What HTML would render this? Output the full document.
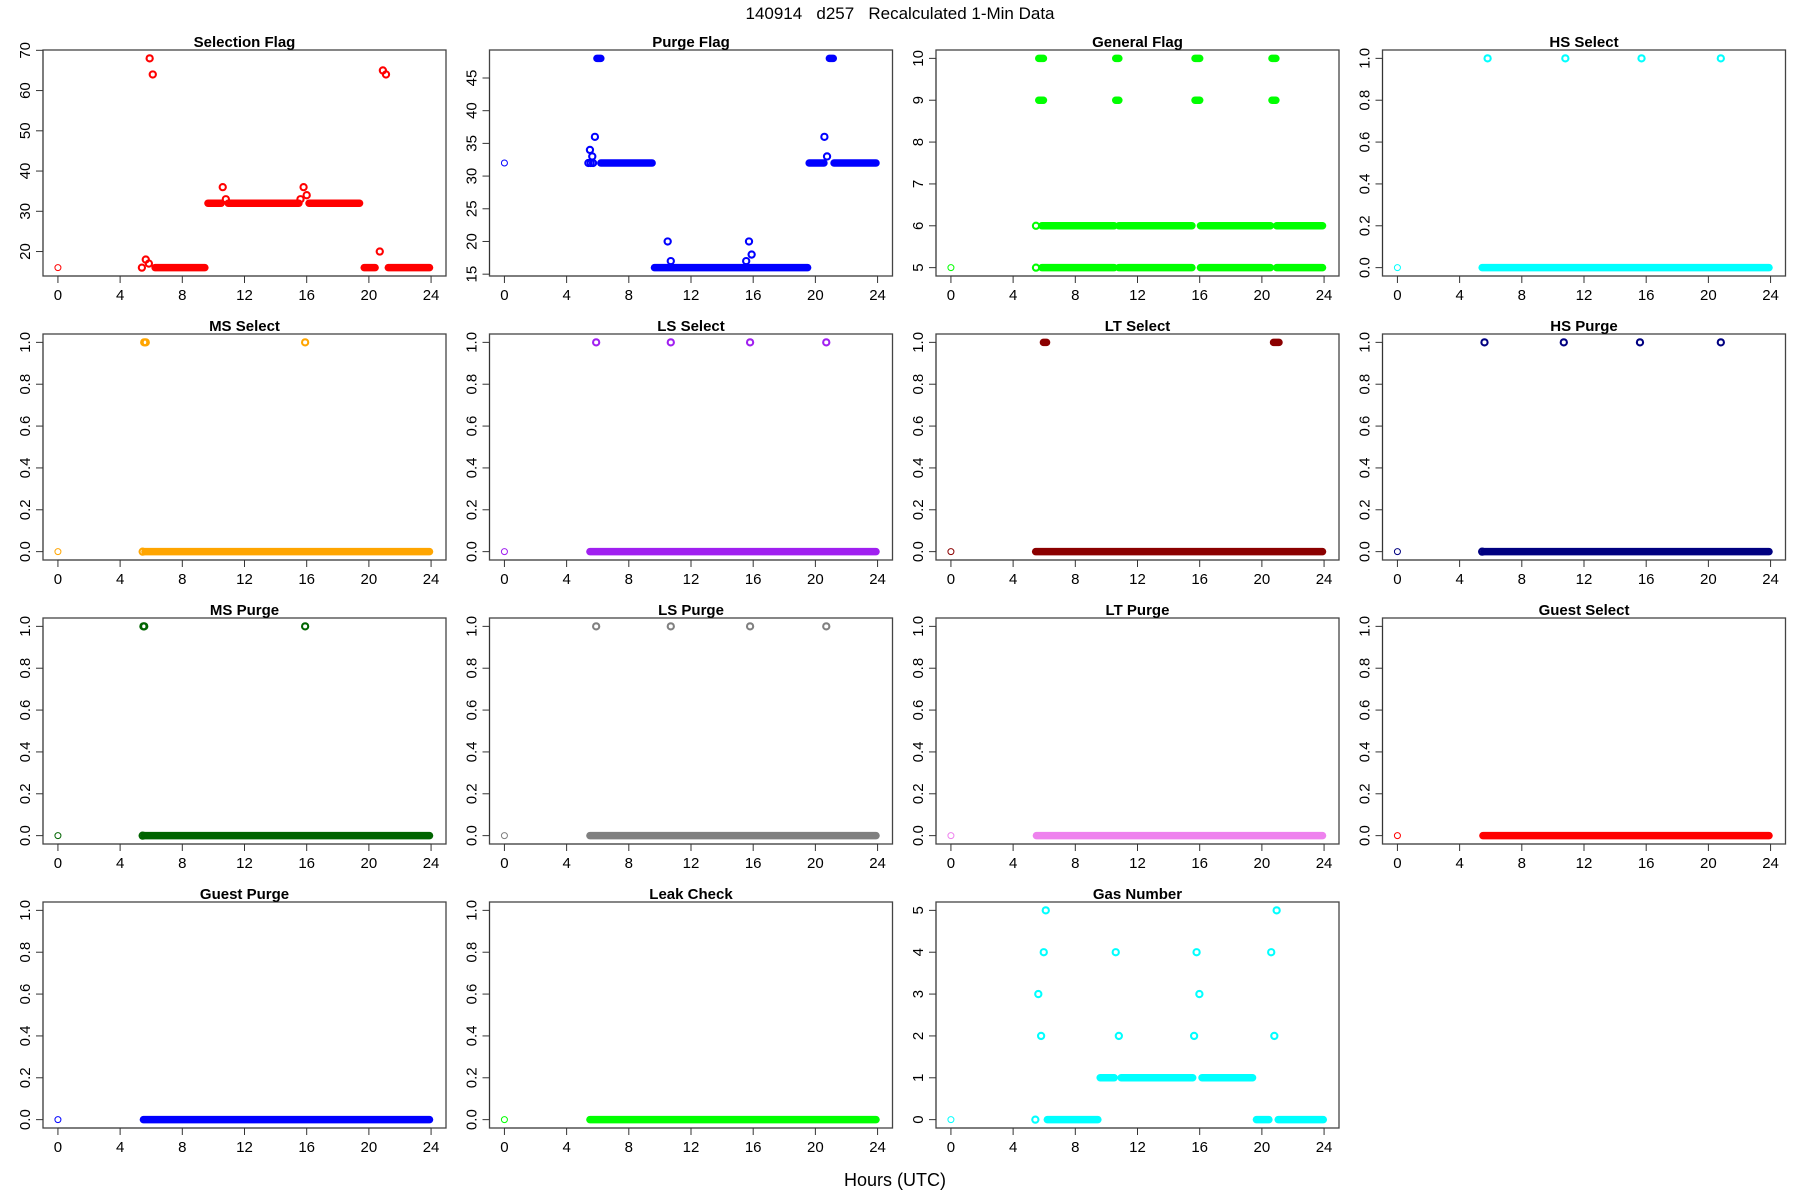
<!DOCTYPE html>
<html><head><meta charset="utf-8"><style>
html,body{margin:0;padding:0;background:#fff;}
svg{display:block;font-family:"Liberation Sans",Arial,sans-serif;}
</style></head><body>
<svg id="chart" width="1800" height="1200" viewBox="0 0 1800 1200">
<text x="900" y="19" text-anchor="middle" font-size="17" style="white-space:pre" xml:space="preserve">140914   d257   Recalculated 1-Min Data</text>
<text x="895" y="1186" text-anchor="middle" font-size="18">Hours (UTC)</text>
</svg>
<script>
// x tick labels shared by all panels
const xTicks = [0,4,8,12,16,20,24];
// panel titles and colours
const titles = ["Selection Flag","Purge Flag","General Flag","HS Select","MS Select","LS Select","LT Select","HS Purge","MS Purge","LS Purge","LT Purge","Guest Select","Guest Purge","Leak Check","Gas Number"];
const colors = ["#ff0000","#0000ff","#00ff00","#00ffff","#ffa500","#a020f0","#8b0000","#000080","#006400","#808080","#ee82ee","#ff0000","#0000ff","#00ff00","#00ffff"];
// y data ranges
const yMins = [16,16,5,0,0,0,0,0,0,0,0,0,0,0,0];
const yMaxs = [68,48,10,1,1,1,1,1,1,1,1,1,1,1,5];
const yTickSets = [[20,30,40,50,60,70],[15,20,25,30,35,40,45],[5,6,7,8,9,10],[0,0.2,0.4,0.6,0.8,1],[0,0.2,0.4,0.6,0.8,1],[0,0.2,0.4,0.6,0.8,1],[0,0.2,0.4,0.6,0.8,1],[0,0.2,0.4,0.6,0.8,1],[0,0.2,0.4,0.6,0.8,1],[0,0.2,0.4,0.6,0.8,1],[0,0.2,0.4,0.6,0.8,1],[0,0.2,0.4,0.6,0.8,1],[0,0.2,0.4,0.6,0.8,1],[0,0.2,0.4,0.6,0.8,1],[0,1,2,3,4,5]];
// first (thin) point value per panel at hour 0
const firstVals = [16,32,5,0,0,0,0,0,0,0,0,0,0,0,0];
// continuous 1-min runs: [startHour, endHour, value]
const selRuns = [[6.25,9.45,16],[9.65,10.5,32],[10.95,15.5,32],[16.15,19.4,32],[19.7,20.4,16],[21.25,23.9,16]];
const purRuns = [[5.95,6.2,48],[6.2,9.5,32],[9.65,19.5,16],[19.6,20.55,32],[20.9,21.15,48],[21.2,23.9,32]];
const genRuns = [[5.85,10.5,5],[10.8,15.5,5],[16.05,20.55,5],[20.95,23.9,5],[5.85,10.5,6],[10.8,15.5,6],[16.05,20.55,6],[20.95,23.9,6],[5.65,5.95,10],[10.6,10.8,10],[15.7,16.0,10],[20.65,20.9,10],[5.65,5.95,9],[10.6,10.8,9],[15.7,16.0,9],[20.65,20.9,9]];
const hsSRuns = [[5.45,23.9,0]];
const msSRuns = [[5.6,23.9,0]];
const lsSRuns = [[5.5,23.9,0]];
const ltSRuns = [[5.45,23.9,0],[5.95,6.15,1],[20.75,21.1,1]];
const hsPRuns = [[5.55,23.9,0]];
const msPRuns = [[5.55,23.9,0]];
const lsPRuns = [[5.5,23.9,0]];
const ltPRuns = [[5.5,23.9,0]];
const gsRuns = [[5.5,23.9,0]];
const gpRuns = [[5.5,23.9,0]];
const lkRuns = [[5.5,23.9,0]];
const gasRuns = [[6.2,9.45,0],[9.6,10.5,1],[10.95,15.55,1],[16.15,19.4,1],[19.65,20.45,0],[21.05,23.95,0]];
// isolated points: [hour, value]
const selPts = [[5.4,16],[5.65,18],[5.85,17],[5.9,68],[6.1,64],[10.6,36],[10.8,33],[15.6,33],[15.8,36],[16.0,34],[20.7,20],[20.9,65],[21.1,64]];
const purPts = [[5.4,32],[5.55,32],[5.7,32],[5.5,34],[5.65,33],[5.82,36],[10.5,20],[10.7,17],[15.55,17],[15.73,20],[15.9,18],[20.58,36],[20.75,33]];
const genPts = [[5.47,5],[5.47,6]];
const hsSPts = [[5.8,1],[10.8,1],[15.7,1],[20.8,1]];
const msSPts = [[5.55,1],[5.65,1],[15.9,1],[5.45,0]];
const lsSPts = [[5.9,1],[10.7,1],[15.8,1],[20.7,1]];
const ltSPts = [];
const hsPPts = [[5.6,1],[10.7,1],[15.6,1],[20.8,1],[5.45,0]];
const msPPts = [[5.5,1],[5.55,1],[15.9,1],[5.45,0]];
const lsPPts = [[5.9,1],[10.7,1],[15.8,1],[20.7,1]];
const ltPPts = [];
const gsPts = [];
const gpPts = [];
const lkPts = [];
const gasPts = [[5.43,0],[6.1,5],[20.95,5],[5.97,4],[10.6,4],[15.8,4],[20.6,4],[5.62,3],[15.98,3],[5.8,2],[10.8,2],[15.64,2],[20.8,2]];

const allRuns = [selRuns,purRuns,genRuns,hsSRuns,msSRuns,lsSRuns,ltSRuns,hsPRuns,msPRuns,lsPRuns,ltPRuns,gsRuns,gpRuns,lkRuns,gasRuns];
const allPts = [selPts,purPts,genPts,hsSPts,msSPts,lsSPts,ltSPts,hsPPts,msPPts,lsPPts,ltPPts,gsPts,gpPts,lkPts,gasPts];

const NS = "http://www.w3.org/2000/svg";
const svg = document.getElementById("chart");
function mk(tag, attrs, parent){const e=document.createElementNS(NS,tag);for(const k in attrs)e.setAttribute(k,attrs[k]);parent.appendChild(e);return e;}
const W=403,H=226;
function slug(s){return s.toLowerCase().replace(/[^a-z0-9]+/g,'-');}

titles.forEach((t,i)=>{
  const c=i%4,r=Math.floor(i/4);
  const L=43+c*446.5, T=50+r*284;
  const xs=v=>L+(v+0.96)/25.92*W;
  const y0=yMins[i],y1=yMaxs[i],pad=(y1-y0)*0.04;
  const ys=v=>T+H-(v-(y0-pad))/((y1-y0)*1.08)*H;
  const g=mk("g",{},svg);
  
  
  const box=mk("rect",{x:L,y:T,width:W,height:H,fill:"none",stroke:"#444","stroke-width":1.3},g);
  
  
  const tt=mk("text",{x:L+W/2,y:T-3,"text-anchor":"middle","font-size":15,"font-weight":"bold"},g);
  tt.textContent=t;
  
  
  const xa=mk("g",{},g);
  
  
  mk("line",{x1:xs(xTicks[0]),x2:xs(xTicks[xTicks.length-1]),y1:T+H,y2:T+H,stroke:"#333","stroke-width":1},xa);
  xTicks.forEach(v=>{
    mk("line",{x1:xs(v),x2:xs(v),y1:T+H,y2:T+H+7,stroke:"#333","stroke-width":1},xa);
    const tx=mk("text",{x:xs(v),y:T+H+24,"text-anchor":"middle","font-size":15},xa);
    tx.textContent=v;
    
    
  });
  const ya=mk("g",{},g);
  
  
  const yt=yTickSets[i];
  mk("line",{x1:L,x2:L,y1:ys(yt[0]),y2:ys(yt[yt.length-1]),stroke:"#333","stroke-width":1},ya);
  yt.forEach(v=>{
    mk("line",{x1:L,x2:L-7,y1:ys(v),y2:ys(v),stroke:"#333","stroke-width":1},ya);
    const lx=L-13,ly=ys(v);
    const tx=mk("text",{x:lx,y:ly,"text-anchor":"middle","font-size":15,transform:`rotate(-90 ${lx} ${ly})`},ya);
    tx.textContent=(yMaxs[i]===1)?v.toFixed(1):v;
    
    
  });
  const col=colors[i];
  const fp=mk("circle",{cx:xs(0),cy:ys(firstVals[i]),r:3,fill:"none",stroke:col,"stroke-width":1},g);
  
  
  allRuns[i].forEach(d=>{
    const ln=mk("line",{x1:xs(d[0]),x2:xs(d[1]),y1:ys(d[2]),y2:ys(d[2]),stroke:col,"stroke-width":7.5,"stroke-linecap":"round"},g);
    
    
  });
  allPts[i].forEach(d=>{
    const p=mk("circle",{cx:xs(d[0]),cy:ys(d[1]),r:3.1,fill:"none",stroke:col,"stroke-width":2.1},g);
    
    
  });
});
</script>
</body></html>
